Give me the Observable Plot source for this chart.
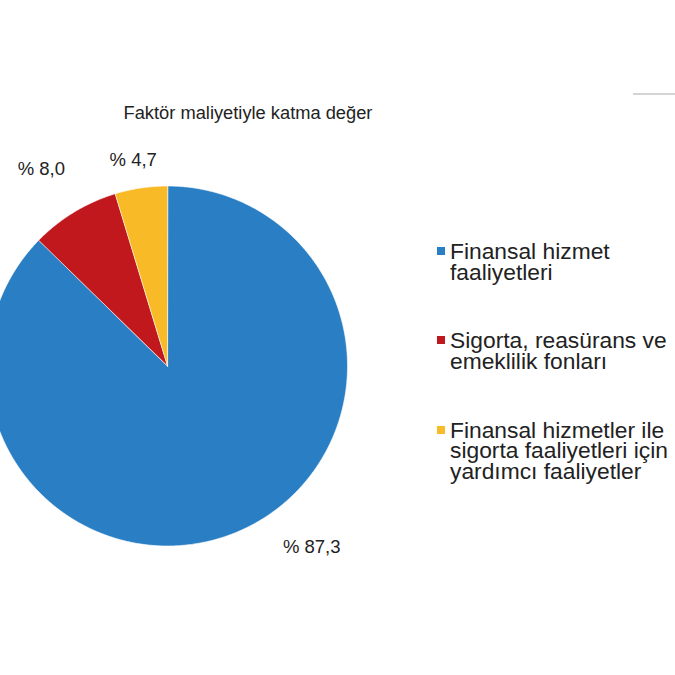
<!DOCTYPE html>
<html>
<head>
<meta charset="utf-8">
<script src="https://cdn.jsdelivr.net/npm/d3@7"></script>
<script src="https://cdn.jsdelivr.net/npm/@observablehq/plot@0.6"></script>
<style>
html,body{margin:0;padding:0;background:#fff;}
#wrap{position:relative;width:675px;height:675px;overflow:hidden;font-family:"Liberation Sans",Arial,sans-serif;background:#fff;}
#chart{position:absolute;left:0;top:0;}
#title{position:absolute;left:0;width:496px;top:104px;text-align:center;font-size:18.3px;line-height:18px;color:#222;}
#legend{position:absolute;left:437px;top:241px;width:238px;}
.item{display:flex;align-items:flex-start;margin-bottom:48.3px;}
.sw{width:8px;height:8px;margin-top:6px;margin-right:5px;flex:none;}
.lab{font-size:22.8px;line-height:20.5px;color:#222;width:225px;}
#rule{position:absolute;left:633px;top:93px;width:42px;height:2px;background:#d4d4d4;}
</style>
</head>
<body>
<div id="wrap">
  <div id="chart"></div>
  <div id="title"></div>
  <div id="legend"></div>
  <div id="rule"></div>
</div>
<script>
const title = "Faktör maliyetiyle katma değer";
const categories = [
  "Finansal hizmet faaliyetleri",
  "Sigorta, reasürans ve emeklilik fonları",
  "Finansal hizmetler ile sigorta faaliyetleri için yardımcı faaliyetler"
];
const values = [87.3, 8.0, 4.7];
const colors = ["#2A7EC3", "#C0181D", "#F9BA28"];

const fmt = v => "% " + v.toFixed(1).replace(".", ",");

const data = categories.map((c, i) => ({category: c, value: values[i]}));
const arcs = d3.pie().sort(null).value(d => d.value)(data);

// slice outlines in unit-circle coordinates (angle 0 at 12 o'clock, clockwise)
const pts = [];
for (const a of arcs) {
  const c = a.data.category;
  const n = Math.max(2, Math.ceil((a.endAngle - a.startAngle) / 0.01));
  pts.push({category: c, x: 0, y: 0});
  for (let k = 0; k <= n; k++) {
    const t = a.startAngle + (a.endAngle - a.startAngle) * k / n;
    pts.push({category: c, x: Math.sin(t), y: Math.cos(t)});
  }
}
const labels = arcs.map(a => ({
  category: a.data.category,
  text: fmt(a.data.value),
  mid: (a.startAngle + a.endAngle) / 2
}));

const R = 180, cx = 167, cy = 365.5, W = 675, H = 675;

// one text mark per slice label, placed outside the slice along its mid-angle
function label(i, r, opts) {
  return Plot.text([labels[i]], {
    x: d => r * Math.sin(d.mid), y: d => r * Math.cos(d.mid),
    text: "text", fontSize: 18.5, fill: "#222", ...opts
  });
}

const chart = Plot.plot({
  width: W, height: H, margin: 0,
  style: {fontFamily: "Liberation Sans, Arial, sans-serif", background: "transparent"},
  x: {domain: [-cx / R, (W - cx) / R], axis: null},
  y: {domain: [-(H - cy) / R, cy / R], axis: null},
  color: {domain: categories, range: colors},
  marks: [
    Plot.line(pts, {x: "x", y: "y", z: "category", fill: "category", stroke: "white", strokeWidth: 0.6, curve: "linear-closed"}),
    label(0, 1.05, {textAnchor: "start", dx: 42, dy: 7}),
    label(1, 1.22, {dx: -12, dy: -9}),
    label(2, 1.22, {dx: -2, dy: 11})
  ]
});
document.getElementById("chart").appendChild(chart);
document.getElementById("title").textContent = title;

const legend = document.getElementById("legend");
categories.forEach((c, i) => {
  const item = document.createElement("div");
  item.className = "item";
  const sw = document.createElement("div");
  sw.className = "sw";
  sw.style.background = colors[i];
  const lab = document.createElement("div");
  lab.className = "lab";
  lab.textContent = c;
  item.appendChild(sw);
  item.appendChild(lab);
  legend.appendChild(item);
});
</script>
</body>
</html>
